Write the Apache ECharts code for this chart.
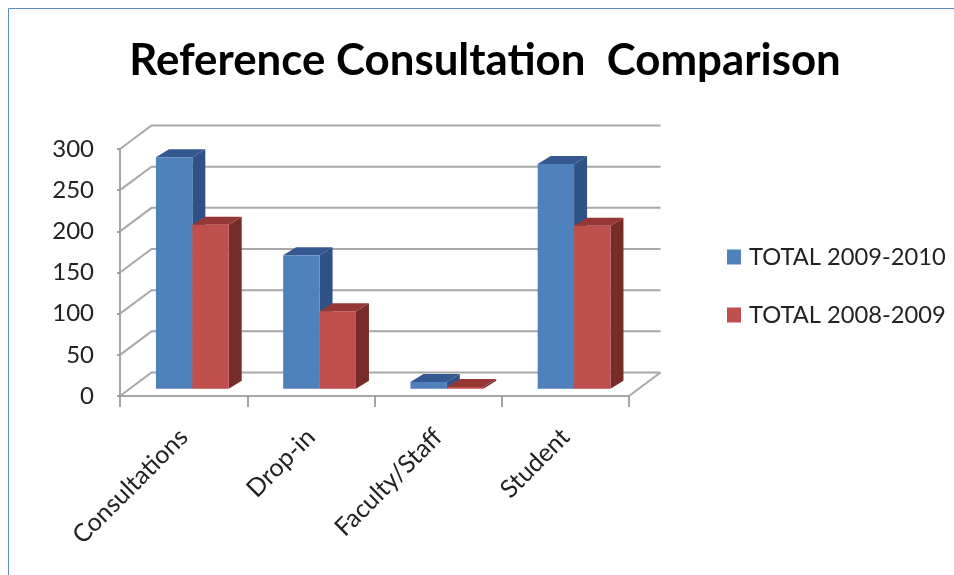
<!DOCTYPE html>
<html><head><meta charset="utf-8">
<style>html,body{margin:0;padding:0;background:#fff}#c{width:954px;height:575px;filter:blur(0.4px)}</style>
<script src="https://cdn.jsdelivr.net/npm/echarts@6/dist/echarts.min.js"></script>
</head><body><div id="c"></div>
<script>
const categories = ['Consultations', 'Drop-in', 'Faculty/Staff', 'Student'];
const total2009 = [281, 162, 8, 273];
const total2008 = [199, 94, 2, 198];
const yTicks = [0, 50, 100, 150, 200, 250, 300];

const wallDx = 31.5, wallDy = -23.5;
const barShiftX = 8.7, barShiftY = -7.3, barDepthX = 13, barDepthY = -8, barFrac = 0.286;
const gridColor = '#a8a8a8';

function poly(points, fill) {
  return { type: 'polygon', shape: { points }, style: { fill, stroke: null } };
}
function barRenderer(offset, front, top, side) {
  return function (params, api) {
    const base = api.coord([api.value(0), 0]);
    const tip = api.coord([api.value(0), api.value(1)]);
    const band = api.size([1, 0])[0];
    const w = band * barFrac;
    const x0 = base[0] + barShiftX + offset * w, x1 = x0 + w;
    const y0 = base[1] + barShiftY, y1 = tip[1] + barShiftY;
    return { type: 'group', children: [
      poly([[x1, y1], [x1 + barDepthX, y1 + barDepthY], [x1 + barDepthX, y0 + barDepthY], [x1, y0]], side),
      poly([[x0, y1], [x0 + barDepthX, y1 + barDepthY], [x1 + barDepthX, y1 + barDepthY], [x1, y1]], top),
      poly([[x0, y1], [x1, y1], [x1, y0], [x0, y0]], front)
    ]};
  };
}
function wallRenderer(params, api) {
  const v = api.value(1);
  const p = api.coord([0, v]);
  const band = api.size([1, 0])[0];
  const left = p[0] - band / 2, right = left + band * categories.length;
  const lineStyle = { stroke: gridColor, lineWidth: 2, fill: null };
  const pts = [[left, p[1]], [left + wallDx, p[1] + wallDy], [right + wallDx, p[1] + wallDy]];
  const kids = [{ type: 'polyline', shape: { points: pts }, style: lineStyle }];
  if (v === 0) {
    kids.push({ type: 'polyline', shape: { points: [[right, p[1]], [right + wallDx, p[1] + wallDy]] }, style: lineStyle });
  }
  return { type: 'group', children: kids };
}

const chart = echarts.init(document.getElementById('c'));
const font = 'Lato';
chart.setOption({
  animation: false,
  backgroundColor: '#ffffff',
  title: {
    text: 'Reference Consultation  Comparison',
    left: 480, top: 34, textAlign: 'center',
    textStyle: { fontFamily: font, fontWeight: 'bold', fontSize: 43.8, color: '#000' }
  },
  legend: {
    orient: 'vertical', left: 722, top: 240, itemGap: 34, itemWidth: 14, itemHeight: 15,
    icon: 'rect', data: ['TOTAL 2009-2010', 'TOTAL 2008-2009'],
    textStyle: { fontFamily: font, fontSize: 23.7, color: '#222', padding: [0, 0, 0, 3] }
  },
  grid: { left: 120, right: 325, top: 149, bottom: 179 },
  xAxis: {
    type: 'category', data: categories,
    axisLine: { lineStyle: { color: gridColor, width: 2 } },
    axisTick: { show: true, length: 11, lineStyle: { color: '#888', width: 1.5 } },
    axisLabel: { rotate: 45, interval: 0, margin: 37, fontFamily: font, fontSize: 25, color: '#222' }
  },
  yAxis: {
    type: 'value', min: 0, max: 300, interval: 50,
    splitLine: { show: false },
    axisLine: { show: true, lineStyle: { color: '#888', width: 1.5 } },
    axisTick: { show: true, length: 3, lineStyle: { color: '#888', width: 1.5 } },
    axisLabel: { margin: 26, fontFamily: font, fontSize: 24, color: '#222' }
  },
  graphic: [
    { type: 'line', shape: { x1: 8.5, y1: 8.5, x2: 954, y2: 8.5 }, style: { stroke: '#5b8ac6', lineWidth: 1 } },
    { type: 'line', shape: { x1: 8.5, y1: 8.5, x2: 8.5, y2: 575 }, style: { stroke: '#5b8ac6', lineWidth: 1 } }
  ],
  series: [
    { type: 'custom', name: 'walls', silent: true, z: 1, renderItem: wallRenderer,
      data: yTicks.map(v => [0, v]), encode: { x: 0, y: 1 } },
    { type: 'custom', name: 'TOTAL 2009-2010', z: 2, itemStyle: { color: '#4F81BD' },
      renderItem: barRenderer(-1, '#4F81BD', '#34588F', '#2F5286'),
      data: total2009.map((v, i) => [i, v]), encode: { x: 0, y: 1 } },
    { type: 'custom', name: 'TOTAL 2008-2009', z: 3, itemStyle: { color: '#C0504D' },
      renderItem: barRenderer(0, '#C0504D', '#953735', '#772C2A'),
      data: total2008.map((v, i) => [i, v]), encode: { x: 0, y: 1 } }
  ]
});
</script></body></html>
